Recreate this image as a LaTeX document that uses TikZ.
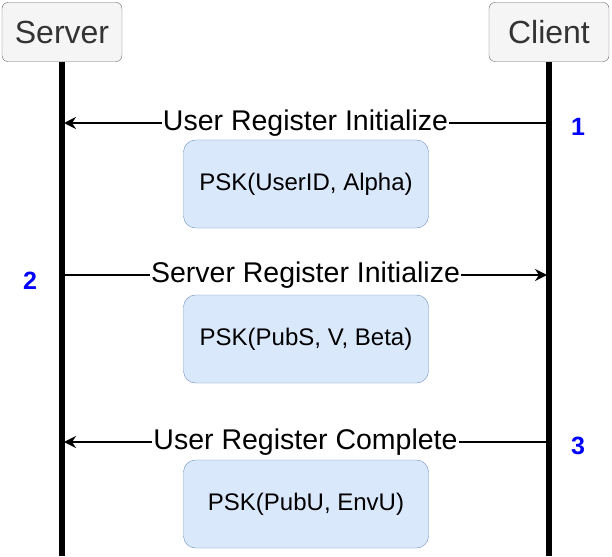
\documentclass[tikz,border=0pt]{standalone}
\usepackage{fontspec}
\setmainfont{Liberation Sans}
\usetikzlibrary{positioning,arrows.meta}
\definecolor{msgfill}{HTML}{DAE8FC}
\definecolor{msgdraw}{HTML}{6C8EBF}
\definecolor{partfill}{HTML}{F5F5F5}
\definecolor{partdraw}{HTML}{666666}
\definecolor{stepblue}{HTML}{0000FF}
\begin{document}
\begin{tikzpicture}
[x=1pt,y=-1pt,
 part/.style={draw=partdraw,fill=partfill,rounded corners=6pt,minimum width=120pt,minimum height=59pt,font=\fontsize{32}{36}\selectfont,text=black!80},
 msg/.style={draw=msgdraw,fill=msgfill,rounded corners=12pt,minimum width=245pt,minimum height=88pt,font=\fontsize{24}{28}\selectfont},
 lbl/.style={fill=white,inner sep=1pt,font=\fontsize{28.5}{32}\selectfont},
 stepnum/.style={text=stepblue,font=\bfseries\fontsize{25}{28}\selectfont},
 life/.style={line width=6pt},
 call/.style={line width=2pt,-{Stealth[length=12pt,width=12pt,inset=4pt]}}]
\useasboundingbox (0,0) rectangle (612,556);
\node[part] (srv) at (62,32)  {Server};
\node[part] (cli) at (549,32) {Client};
\coordinate (srvE) at (62,556);
\coordinate (cliE) at (549,556);
\draw[life] (srv.south) -- (srvE);
\draw[life] (cli.south) -- (cliE);
% messages
\coordinate (c1) at (547,123); \coordinate (s1) at (64,123);
\coordinate (s2) at (64,275);  \coordinate (c2) at (547,275);
\coordinate (c3) at (547,442); \coordinate (s3) at (64,442);
\draw[call] (c1) -- node[lbl] (l1) {User Register Initialize} (s1);
\draw[call] (s2) -- node[lbl] (l2) {Server Register Initialize} (c2);
\draw[call] (c3) -- node[lbl] (l3) {User Register Complete} (s3);
\node[msg] (m1) at (306,184) {PSK(UserID, Alpha)};
\node[msg] (m2) at (306,339) {PSK(PubS, V, Beta)};
\node[msg] (m3) at (306,504) {PSK(PubU, EnvU)};
\node[stepnum] (n1) at (578,127) {1};
\node[stepnum] (n2) at (30,281)  {2};
\node[stepnum] (n3) at (578,446) {3};
\end{tikzpicture}
\end{document}
